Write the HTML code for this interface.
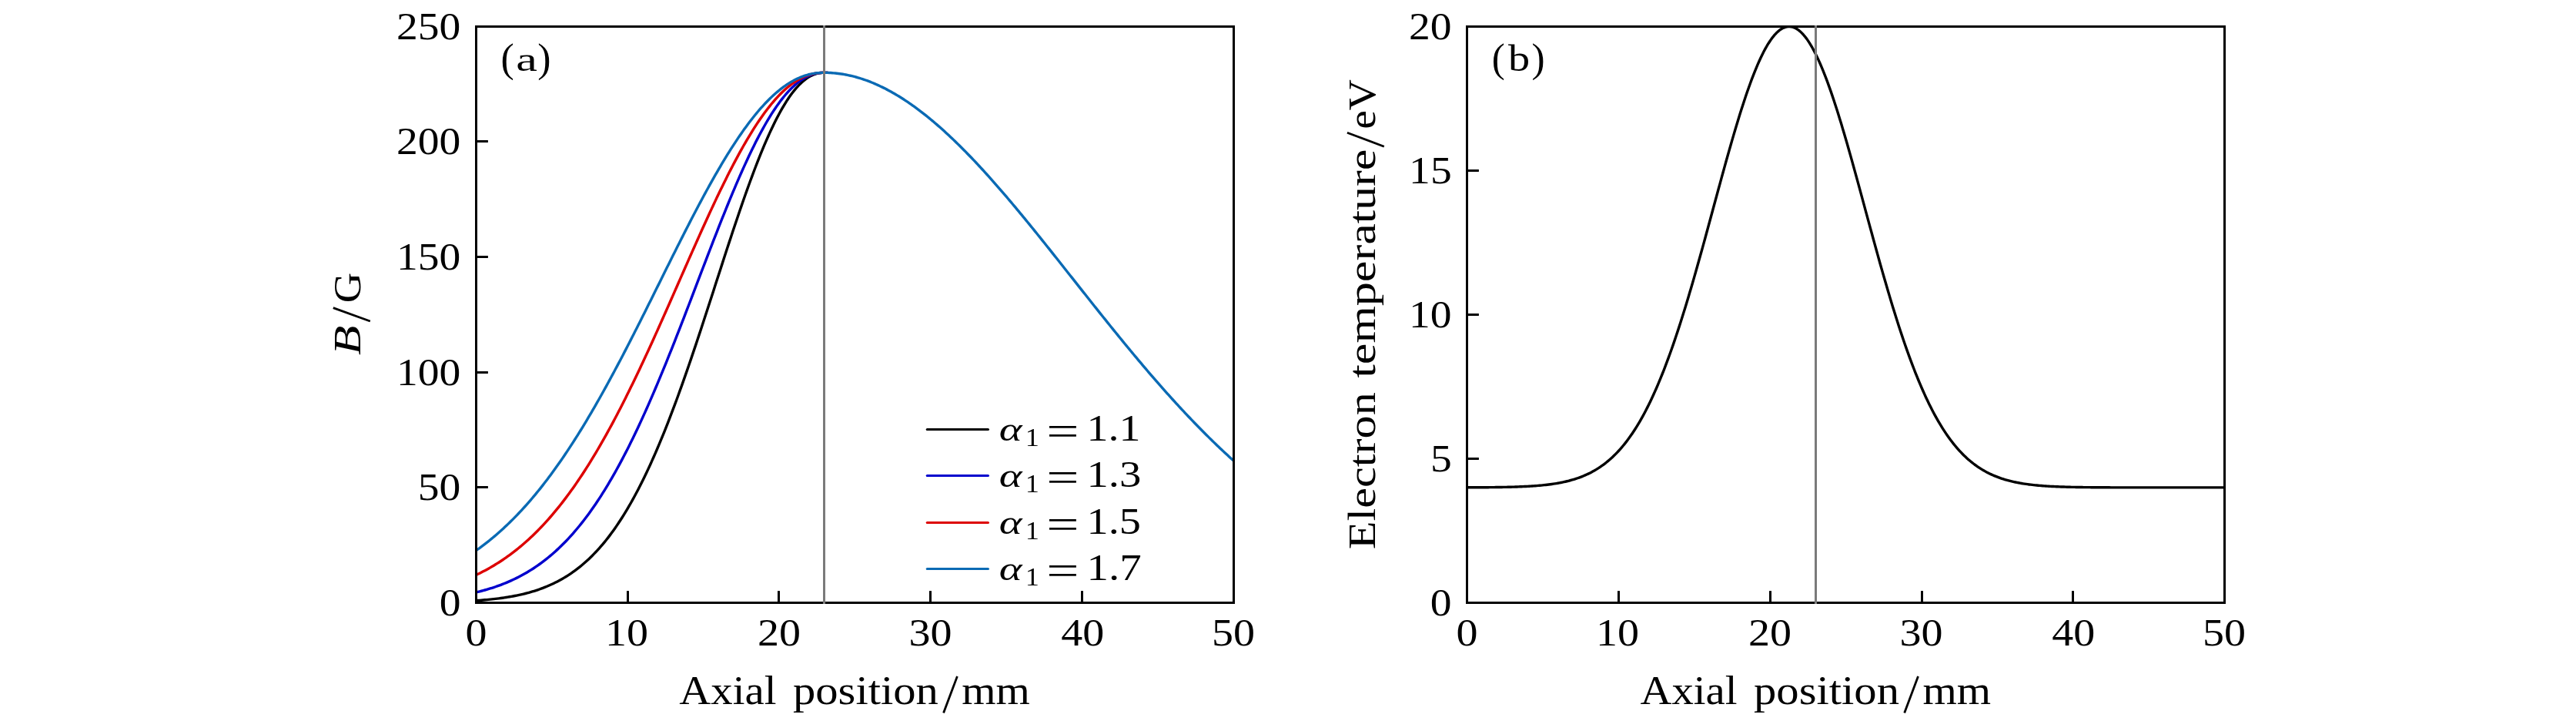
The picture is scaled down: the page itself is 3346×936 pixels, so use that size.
<!DOCTYPE html>
<html><head><meta charset="utf-8"><style>html,body{margin:0;padding:0;background:#fff;width:3346px;height:936px;overflow:hidden}</style></head>
<body>
<svg width="3346" height="936" viewBox="0 0 3346 936" style="position:absolute;left:0;top:0;will-change:transform">
<rect width="3346" height="936" fill="#fff"/>
<defs><clipPath id="ca"><rect x="618.5" y="34.5" width="984.0" height="748.0"/></clipPath><clipPath id="cb"><rect x="1905.5" y="34.5" width="984.0" height="748.0"/></clipPath></defs>
<g stroke="#000" stroke-width="3.0"><line x1="815.50" y1="782.5" x2="815.50" y2="767.1"/><line x1="1011.50" y1="782.5" x2="1011.50" y2="767.1"/><line x1="1208.50" y1="782.5" x2="1208.50" y2="767.1"/><line x1="1405.50" y1="782.5" x2="1405.50" y2="767.1"/><line x1="618.5" y1="632.50" x2="633.9" y2="632.50"/><line x1="618.5" y1="483.50" x2="633.9" y2="483.50"/><line x1="618.5" y1="333.50" x2="633.9" y2="333.50"/><line x1="618.5" y1="183.50" x2="633.9" y2="183.50"/></g>
<g clip-path="url(#ca)" fill="none" stroke-width="3.4" stroke-linejoin="round" stroke-linecap="round">
<path d="M618.50,779.70 L620.78,779.54 L623.07,779.37 L625.35,779.19 L627.63,779.01 L629.91,778.81 L632.20,778.60 L634.48,778.39 L636.76,778.16 L639.05,777.92 L641.33,777.67 L643.61,777.41 L645.89,777.13 L648.18,776.84 L650.46,776.54 L652.74,776.22 L655.03,775.89 L657.31,775.54 L659.59,775.17 L661.87,774.79 L664.16,774.39 L666.44,773.97 L668.72,773.54 L671.01,773.08 L673.29,772.60 L675.57,772.11 L677.85,771.59 L680.14,771.04 L682.42,770.48 L684.70,769.89 L686.99,769.27 L689.27,768.63 L691.55,767.96 L693.84,767.26 L696.12,766.53 L698.40,765.78 L700.68,764.99 L702.97,764.17 L705.25,763.32 L707.53,762.43 L709.82,761.51 L712.10,760.55 L714.38,759.56 L716.66,758.52 L718.95,757.45 L721.23,756.34 L723.51,755.19 L725.80,753.99 L728.08,752.75 L730.36,751.46 L732.64,750.13 L734.93,748.75 L737.21,747.32 L739.49,745.84 L741.78,744.31 L744.06,742.72 L746.34,741.09 L748.62,739.39 L750.91,737.65 L753.19,735.84 L755.47,733.97 L757.76,732.05 L760.04,730.06 L762.32,728.01 L764.60,725.90 L766.89,723.72 L769.17,721.47 L771.45,719.16 L773.74,716.78 L776.02,714.33 L778.30,711.80 L780.58,709.21 L782.87,706.54 L785.15,703.79 L787.43,700.97 L789.72,698.08 L792.00,695.10 L794.28,692.05 L796.56,688.91 L798.85,685.70 L801.13,682.40 L803.41,679.03 L805.70,675.56 L807.98,672.02 L810.26,668.39 L812.54,664.67 L814.83,660.87 L817.11,656.98 L819.39,653.00 L821.68,648.94 L823.96,644.79 L826.24,640.55 L828.52,636.22 L830.81,631.81 L833.09,627.30 L835.37,622.71 L837.66,618.03 L839.94,613.25 L842.22,608.40 L844.51,603.45 L846.79,598.42 L849.07,593.29 L851.35,588.09 L853.64,582.79 L855.92,577.42 L858.20,571.96 L860.49,566.41 L862.77,560.78 L865.05,555.08 L867.33,549.29 L869.62,543.43 L871.90,537.48 L874.18,531.47 L876.47,525.38 L878.75,519.22 L881.03,512.99 L883.31,506.69 L885.60,500.33 L887.88,493.90 L890.16,487.41 L892.45,480.87 L894.73,474.26 L897.01,467.61 L899.29,460.90 L901.58,454.15 L903.86,447.35 L906.14,440.52 L908.43,433.64 L910.71,426.73 L912.99,419.78 L915.27,412.81 L917.56,405.81 L919.84,398.80 L922.12,391.76 L924.41,384.71 L926.69,377.66 L928.97,370.59 L931.25,363.53 L933.54,356.46 L935.82,349.41 L938.10,342.36 L940.39,335.33 L942.67,328.32 L944.95,321.34 L947.23,314.38 L949.52,307.46 L951.80,300.57 L954.08,293.72 L956.37,286.93 L958.65,280.18 L960.93,273.49 L963.21,266.85 L965.50,260.29 L967.78,253.79 L970.06,247.37 L972.35,241.02 L974.63,234.76 L976.91,228.59 L979.20,222.51 L981.48,216.52 L983.76,210.64 L986.04,204.86 L988.33,199.19 L990.61,193.64 L992.89,188.20 L995.18,182.88 L997.46,177.70 L999.74,172.64 L1002.02,167.71 L1004.31,162.92 L1006.59,158.28 L1008.87,153.77 L1011.16,149.42 L1013.44,145.21 L1015.72,141.16 L1018.00,137.27 L1020.29,133.54 L1022.57,129.96 L1024.85,126.55 L1027.14,123.31 L1029.42,120.24 L1031.70,117.34 L1033.98,114.60 L1036.27,112.05 L1038.55,109.66 L1040.83,107.45 L1043.12,105.42 L1045.40,103.56 L1047.68,101.88 L1049.96,100.38 L1052.25,99.05 L1054.53,97.89 L1056.81,96.90 L1059.10,96.09 L1061.38,95.43 L1063.66,94.94 L1065.94,94.61 L1068.23,94.41 L1070.51,94.34 L1072.79,94.35 L1075.08,94.40" stroke="#000000"/>
<path d="M618.50,768.95 L620.78,768.40 L623.07,767.83 L625.35,767.25 L627.63,766.64 L629.91,766.01 L632.20,765.35 L634.48,764.68 L636.76,763.98 L639.05,763.26 L641.33,762.52 L643.61,761.75 L645.89,760.96 L648.18,760.14 L650.46,759.29 L652.74,758.41 L655.03,757.51 L657.31,756.58 L659.59,755.62 L661.87,754.63 L664.16,753.61 L666.44,752.56 L668.72,751.47 L671.01,750.36 L673.29,749.20 L675.57,748.02 L677.85,746.80 L680.14,745.54 L682.42,744.25 L684.70,742.92 L686.99,741.55 L689.27,740.14 L691.55,738.70 L693.84,737.21 L696.12,735.68 L698.40,734.11 L700.68,732.50 L702.97,730.85 L705.25,729.15 L707.53,727.40 L709.82,725.61 L712.10,723.77 L714.38,721.89 L716.66,719.96 L718.95,717.98 L721.23,715.95 L723.51,713.87 L725.80,711.74 L728.08,709.56 L730.36,707.32 L732.64,705.04 L734.93,702.70 L737.21,700.30 L739.49,697.85 L741.78,695.35 L744.06,692.79 L746.34,690.17 L748.62,687.50 L750.91,684.77 L753.19,681.98 L755.47,679.13 L757.76,676.22 L760.04,673.25 L762.32,670.23 L764.60,667.14 L766.89,663.99 L769.17,660.78 L771.45,657.51 L773.74,654.17 L776.02,650.78 L778.30,647.32 L780.58,643.80 L782.87,640.21 L785.15,636.56 L787.43,632.85 L789.72,629.08 L792.00,625.24 L794.28,621.34 L796.56,617.38 L798.85,613.36 L801.13,609.27 L803.41,605.12 L805.70,600.90 L807.98,596.63 L810.26,592.29 L812.54,587.89 L814.83,583.43 L817.11,578.91 L819.39,574.33 L821.68,569.68 L823.96,564.98 L826.24,560.23 L828.52,555.41 L830.81,550.54 L833.09,545.61 L835.37,540.62 L837.66,535.58 L839.94,530.49 L842.22,525.35 L844.51,520.15 L846.79,514.91 L849.07,509.61 L851.35,504.27 L853.64,498.88 L855.92,493.45 L858.20,487.97 L860.49,482.45 L862.77,476.89 L865.05,471.29 L867.33,465.66 L869.62,459.98 L871.90,454.28 L874.18,448.54 L876.47,442.77 L878.75,436.97 L881.03,431.15 L883.31,425.30 L885.60,419.43 L887.88,413.53 L890.16,407.62 L892.45,401.70 L894.73,395.76 L897.01,389.80 L899.29,383.84 L901.58,377.87 L903.86,371.90 L906.14,365.92 L908.43,359.95 L910.71,353.98 L912.99,348.01 L915.27,342.05 L917.56,336.10 L919.84,330.16 L922.12,324.24 L924.41,318.34 L926.69,312.46 L928.97,306.60 L931.25,300.77 L933.54,294.97 L935.82,289.20 L938.10,283.47 L940.39,277.77 L942.67,272.12 L944.95,266.50 L947.23,260.94 L949.52,255.42 L951.80,249.95 L954.08,244.54 L956.37,239.19 L958.65,233.89 L960.93,228.66 L963.21,223.49 L965.50,218.40 L967.78,213.37 L970.06,208.42 L972.35,203.54 L974.63,198.74 L976.91,194.02 L979.20,189.39 L981.48,184.84 L983.76,180.39 L986.04,176.02 L988.33,171.75 L990.61,167.57 L992.89,163.50 L995.18,159.52 L997.46,155.65 L999.74,151.88 L1002.02,148.22 L1004.31,144.66 L1006.59,141.22 L1008.87,137.89 L1011.16,134.68 L1013.44,131.58 L1015.72,128.60 L1018.00,125.74 L1020.29,123.00 L1022.57,120.38 L1024.85,117.88 L1027.14,115.51 L1029.42,113.26 L1031.70,111.14 L1033.98,109.15 L1036.27,107.28 L1038.55,105.54 L1040.83,103.93 L1043.12,102.45 L1045.40,101.09 L1047.68,99.87 L1049.96,98.77 L1052.25,97.80 L1054.53,96.95 L1056.81,96.23 L1059.10,95.63 L1061.38,95.15 L1063.66,94.79 L1065.94,94.54 L1068.23,94.39 L1070.51,94.34 L1072.79,94.35 L1075.08,94.40" stroke="#0000cd"/>
<path d="M618.50,746.37 L620.78,745.28 L623.07,744.16 L625.35,743.02 L627.63,741.85 L629.91,740.65 L632.20,739.42 L634.48,738.16 L636.76,736.87 L639.05,735.56 L641.33,734.21 L643.61,732.82 L645.89,731.41 L648.18,729.96 L650.46,728.48 L652.74,726.97 L655.03,725.42 L657.31,723.84 L659.59,722.22 L661.87,720.57 L664.16,718.88 L666.44,717.16 L668.72,715.40 L671.01,713.60 L673.29,711.76 L675.57,709.89 L677.85,707.97 L680.14,706.02 L682.42,704.03 L684.70,702.00 L686.99,699.92 L689.27,697.81 L691.55,695.65 L693.84,693.46 L696.12,691.22 L698.40,688.94 L700.68,686.61 L702.97,684.24 L705.25,681.83 L707.53,679.38 L709.82,676.88 L712.10,674.33 L714.38,671.75 L716.66,669.11 L718.95,666.43 L721.23,663.71 L723.51,660.94 L725.80,658.12 L728.08,655.26 L730.36,652.35 L732.64,649.39 L734.93,646.39 L737.21,643.34 L739.49,640.24 L741.78,637.09 L744.06,633.90 L746.34,630.66 L748.62,627.38 L750.91,624.04 L753.19,620.66 L755.47,617.23 L757.76,613.76 L760.04,610.23 L762.32,606.66 L764.60,603.04 L766.89,599.38 L769.17,595.67 L771.45,591.91 L773.74,588.10 L776.02,584.25 L778.30,580.36 L780.58,576.41 L782.87,572.43 L785.15,568.39 L787.43,564.32 L789.72,560.20 L792.00,556.03 L794.28,551.83 L796.56,547.58 L798.85,543.29 L801.13,538.95 L803.41,534.58 L805.70,530.16 L807.98,525.71 L810.26,521.22 L812.54,516.68 L814.83,512.11 L817.11,507.51 L819.39,502.87 L821.68,498.19 L823.96,493.48 L826.24,488.74 L828.52,483.96 L830.81,479.15 L833.09,474.31 L835.37,469.45 L837.66,464.55 L839.94,459.63 L842.22,454.68 L844.51,449.70 L846.79,444.71 L849.07,439.69 L851.35,434.64 L853.64,429.58 L855.92,424.50 L858.20,419.40 L860.49,414.29 L862.77,409.16 L865.05,404.02 L867.33,398.87 L869.62,393.70 L871.90,388.53 L874.18,383.35 L876.47,378.17 L878.75,372.98 L881.03,367.78 L883.31,362.59 L885.60,357.40 L887.88,352.21 L890.16,347.02 L892.45,341.84 L894.73,336.66 L897.01,331.50 L899.29,326.35 L901.58,321.21 L903.86,316.08 L906.14,310.97 L908.43,305.88 L910.71,300.80 L912.99,295.75 L915.27,290.72 L917.56,285.72 L919.84,280.75 L922.12,275.80 L924.41,270.88 L926.69,266.00 L928.97,261.15 L931.25,256.34 L933.54,251.57 L935.82,246.83 L938.10,242.14 L940.39,237.49 L942.67,232.89 L944.95,228.33 L947.23,223.83 L949.52,219.38 L951.80,214.97 L954.08,210.63 L956.37,206.34 L958.65,202.11 L960.93,197.94 L963.21,193.83 L965.50,189.78 L967.78,185.80 L970.06,181.89 L972.35,178.04 L974.63,174.27 L976.91,170.57 L979.20,166.94 L981.48,163.39 L983.76,159.91 L986.04,156.51 L988.33,153.19 L990.61,149.95 L992.89,146.79 L995.18,143.72 L997.46,140.73 L999.74,137.83 L1002.02,135.01 L1004.31,132.29 L1006.59,129.65 L1008.87,127.10 L1011.16,124.65 L1013.44,122.28 L1015.72,120.01 L1018.00,117.84 L1020.29,115.76 L1022.57,113.77 L1024.85,111.89 L1027.14,110.10 L1029.42,108.40 L1031.70,106.80 L1033.98,105.31 L1036.27,103.91 L1038.55,102.60 L1040.83,101.40 L1043.12,100.29 L1045.40,99.29 L1047.68,98.38 L1049.96,97.56 L1052.25,96.85 L1054.53,96.22 L1056.81,95.70 L1059.10,95.26 L1061.38,94.91 L1063.66,94.65 L1065.94,94.48 L1068.23,94.38 L1070.51,94.34 L1072.79,94.35 L1075.08,94.40" stroke="#dd0000"/>
<path d="M618.50,714.61 L620.47,713.22 L622.44,711.80 L624.40,710.36 L626.37,708.90 L628.34,707.42 L630.31,705.91 L632.28,704.38 L634.24,702.83 L636.21,701.25 L638.18,699.65 L640.15,698.02 L642.12,696.37 L644.08,694.69 L646.05,692.99 L648.02,691.27 L649.99,689.52 L651.96,687.75 L653.92,685.95 L655.89,684.12 L657.86,682.27 L659.83,680.39 L661.80,678.49 L663.76,676.56 L665.73,674.61 L667.70,672.63 L669.67,670.62 L671.64,668.58 L673.60,666.52 L675.57,664.44 L677.54,662.32 L679.51,660.18 L681.48,658.01 L683.44,655.82 L685.41,653.59 L687.38,651.34 L689.35,649.06 L691.32,646.76 L693.28,644.43 L695.25,642.07 L697.22,639.68 L699.19,637.26 L701.16,634.82 L703.12,632.35 L705.09,629.85 L707.06,627.32 L709.03,624.77 L711.00,622.19 L712.96,619.58 L714.93,616.94 L716.90,614.27 L718.87,611.58 L720.84,608.86 L722.80,606.11 L724.77,603.34 L726.74,600.53 L728.71,597.70 L730.68,594.84 L732.64,591.96 L734.61,589.05 L736.58,586.11 L738.55,583.14 L740.52,580.15 L742.48,577.13 L744.45,574.09 L746.42,571.02 L748.39,567.92 L750.36,564.80 L752.32,561.65 L754.29,558.48 L756.26,555.28 L758.23,552.05 L760.20,548.80 L762.16,545.53 L764.13,542.23 L766.10,538.91 L768.07,535.56 L770.04,532.19 L772.00,528.80 L773.97,525.39 L775.94,521.95 L777.91,518.49 L779.88,515.01 L781.84,511.50 L783.81,507.98 L785.78,504.43 L787.75,500.87 L789.72,497.28 L791.68,493.68 L793.65,490.05 L795.62,486.41 L797.59,482.75 L799.56,479.07 L801.52,475.37 L803.49,471.66 L805.46,467.93 L807.43,464.18 L809.40,460.42 L811.36,456.64 L813.33,452.85 L815.30,449.04 L817.27,445.22 L819.24,441.39 L821.20,437.54 L823.17,433.69 L825.14,429.82 L827.11,425.94 L829.08,422.05 L831.04,418.15 L833.01,414.25 L834.98,410.33 L836.95,406.41 L838.92,402.48 L840.88,398.54 L842.85,394.60 L844.82,390.65 L846.79,386.70 L848.76,382.75 L850.72,378.79 L852.69,374.83 L854.66,370.87 L856.63,366.90 L858.60,362.94 L860.56,358.98 L862.53,355.02 L864.50,351.06 L866.47,347.10 L868.44,343.15 L870.40,339.20 L872.37,335.26 L874.34,331.32 L876.31,327.39 L878.28,323.47 L880.24,319.56 L882.21,315.65 L884.18,311.75 L886.15,307.87 L888.12,303.99 L890.08,300.13 L892.05,296.28 L894.02,292.45 L895.99,288.63 L897.96,284.82 L899.92,281.03 L901.89,277.26 L903.86,273.51 L905.83,269.77 L907.80,266.05 L909.76,262.36 L911.73,258.68 L913.70,255.03 L915.67,251.40 L917.64,247.79 L919.60,244.21 L921.57,240.65 L923.54,237.12 L925.51,233.62 L927.48,230.14 L929.44,226.70 L931.41,223.28 L933.38,219.89 L935.35,216.53 L937.32,213.20 L939.28,209.91 L941.25,206.65 L943.22,203.42 L945.19,200.23 L947.16,197.07 L949.12,193.95 L951.09,190.87 L953.06,187.82 L955.03,184.81 L957.00,181.84 L958.96,178.92 L960.93,176.03 L962.90,173.18 L964.87,170.38 L966.84,167.61 L968.80,164.90 L970.77,162.22 L972.74,159.59 L974.71,157.01 L976.68,154.47 L978.64,151.97 L980.61,149.53 L982.58,147.13 L984.55,144.78 L986.52,142.48 L988.48,140.23 L990.45,138.02 L992.42,135.87 L994.39,133.77 L996.36,131.72 L998.32,129.73 L1000.29,127.78 L1002.26,125.89 L1004.23,124.05 L1006.20,122.26 L1008.16,120.53 L1010.13,118.85 L1012.10,117.23 L1014.07,115.66 L1016.04,114.15 L1018.00,112.69 L1019.97,111.29 L1021.94,109.94 L1023.91,108.65 L1025.88,107.42 L1027.84,106.24 L1029.81,105.12 L1031.78,104.05 L1033.75,103.04 L1035.72,102.09 L1037.68,101.20 L1039.65,100.36 L1041.62,99.58 L1043.59,98.86 L1045.56,98.19 L1047.52,97.57 L1049.49,97.02 L1051.46,96.52 L1053.43,96.07 L1055.40,95.68 L1057.36,95.34 L1059.33,95.05 L1061.30,94.81 L1063.27,94.63 L1065.24,94.49 L1067.20,94.40 L1069.17,94.35 L1071.14,94.34 L1073.11,94.35 L1075.08,94.40 L1077.04,94.47 L1079.01,94.57 L1080.98,94.69 L1082.95,94.84 L1084.92,95.02 L1086.88,95.22 L1088.85,95.46 L1090.82,95.71 L1092.79,96.00 L1094.76,96.30 L1096.72,96.64 L1098.69,97.00 L1100.66,97.39 L1102.63,97.80 L1104.60,98.24 L1106.56,98.70 L1108.53,99.19 L1110.50,99.70 L1112.47,100.24 L1114.44,100.80 L1116.40,101.39 L1118.37,102.00 L1120.34,102.64 L1122.31,103.30 L1124.28,103.99 L1126.24,104.70 L1128.21,105.44 L1130.18,106.20 L1132.15,106.98 L1134.12,107.79 L1136.08,108.62 L1138.05,109.47 L1140.02,110.35 L1141.99,111.26 L1143.96,112.18 L1145.92,113.13 L1147.89,114.10 L1149.86,115.10 L1151.83,116.12 L1153.80,117.16 L1155.76,118.22 L1157.73,119.31 L1159.70,120.42 L1161.67,121.55 L1163.64,122.70 L1165.60,123.87 L1167.57,125.07 L1169.54,126.29 L1171.51,127.53 L1173.48,128.79 L1175.44,130.07 L1177.41,131.38 L1179.38,132.70 L1181.35,134.05 L1183.32,135.41 L1185.28,136.80 L1187.25,138.21 L1189.22,139.63 L1191.19,141.08 L1193.16,142.55 L1195.12,144.03 L1197.09,145.54 L1199.06,147.07 L1201.03,148.61 L1203.00,150.17 L1204.96,151.76 L1206.93,153.36 L1208.90,154.98 L1210.87,156.62 L1212.84,158.27 L1214.80,159.95 L1216.77,161.64 L1218.74,163.35 L1220.71,165.08 L1222.68,166.82 L1224.64,168.58 L1226.61,170.36 L1228.58,172.16 L1230.55,173.97 L1232.52,175.80 L1234.48,177.64 L1236.45,179.50 L1238.42,181.38 L1240.39,183.27 L1242.36,185.18 L1244.32,187.10 L1246.29,189.03 L1248.26,190.99 L1250.23,192.95 L1252.20,194.93 L1254.16,196.93 L1256.13,198.94 L1258.10,200.96 L1260.07,203.00 L1262.04,205.05 L1264.00,207.11 L1265.97,209.19 L1267.94,211.28 L1269.91,213.38 L1271.88,215.50 L1273.84,217.62 L1275.81,219.76 L1277.78,221.91 L1279.75,224.08 L1281.72,226.25 L1283.68,228.43 L1285.65,230.63 L1287.62,232.84 L1289.59,235.05 L1291.56,237.28 L1293.52,239.52 L1295.49,241.77 L1297.46,244.03 L1299.43,246.29 L1301.40,248.57 L1303.36,250.86 L1305.33,253.15 L1307.30,255.45 L1309.27,257.77 L1311.24,260.09 L1313.20,262.41 L1315.17,264.75 L1317.14,267.10 L1319.11,269.45 L1321.08,271.81 L1323.04,274.17 L1325.01,276.55 L1326.98,278.93 L1328.95,281.31 L1330.92,283.70 L1332.88,286.10 L1334.85,288.51 L1336.82,290.92 L1338.79,293.33 L1340.76,295.76 L1342.72,298.18 L1344.69,300.61 L1346.66,303.05 L1348.63,305.49 L1350.60,307.93 L1352.56,310.38 L1354.53,312.83 L1356.50,315.29 L1358.47,317.75 L1360.44,320.21 L1362.40,322.68 L1364.37,325.15 L1366.34,327.62 L1368.31,330.10 L1370.28,332.57 L1372.24,335.05 L1374.21,337.53 L1376.18,340.01 L1378.15,342.50 L1380.12,344.98 L1382.08,347.47 L1384.05,349.96 L1386.02,352.45 L1387.99,354.94 L1389.96,357.43 L1391.92,359.92 L1393.89,362.41 L1395.86,364.90 L1397.83,367.39 L1399.80,369.88 L1401.76,372.37 L1403.73,374.86 L1405.70,377.35 L1407.67,379.83 L1409.64,382.32 L1411.60,384.80 L1413.57,387.28 L1415.54,389.76 L1417.51,392.24 L1419.48,394.72 L1421.44,397.19 L1423.41,399.67 L1425.38,402.14 L1427.35,404.60 L1429.32,407.07 L1431.28,409.53 L1433.25,411.99 L1435.22,414.44 L1437.19,416.89 L1439.16,419.34 L1441.12,421.78 L1443.09,424.22 L1445.06,426.66 L1447.03,429.09 L1449.00,431.51 L1450.96,433.94 L1452.93,436.35 L1454.90,438.77 L1456.87,441.18 L1458.84,443.58 L1460.80,445.98 L1462.77,448.37 L1464.74,450.76 L1466.71,453.14 L1468.68,455.51 L1470.64,457.88 L1472.61,460.25 L1474.58,462.60 L1476.55,464.96 L1478.52,467.30 L1480.48,469.64 L1482.45,471.97 L1484.42,474.30 L1486.39,476.62 L1488.36,478.93 L1490.32,481.24 L1492.29,483.53 L1494.26,485.82 L1496.23,488.11 L1498.20,490.38 L1500.16,492.65 L1502.13,494.91 L1504.10,497.17 L1506.07,499.41 L1508.04,501.65 L1510.00,503.88 L1511.97,506.10 L1513.94,508.31 L1515.91,510.52 L1517.88,512.72 L1519.84,514.90 L1521.81,517.08 L1523.78,519.25 L1525.75,521.42 L1527.72,523.57 L1529.68,525.71 L1531.65,527.85 L1533.62,529.98 L1535.59,532.09 L1537.56,534.20 L1539.52,536.30 L1541.49,538.39 L1543.46,540.47 L1545.43,542.54 L1547.40,544.61 L1549.36,546.66 L1551.33,548.70 L1553.30,550.73 L1555.27,552.76 L1557.24,554.77 L1559.20,556.77 L1561.17,558.77 L1563.14,560.75 L1565.11,562.73 L1567.08,564.69 L1569.04,566.64 L1571.01,568.59 L1572.98,570.52 L1574.95,572.44 L1576.92,574.36 L1578.88,576.26 L1580.85,578.15 L1582.82,580.03 L1584.79,581.91 L1586.76,583.77 L1588.72,585.62 L1590.69,587.46 L1592.66,589.29 L1594.63,591.11 L1596.60,592.92 L1598.56,594.71 L1600.53,596.50 L1602.50,598.28" stroke="#0a6ab4"/>
</g>
<rect x="618.5" y="34.5" width="984.0" height="748.0" fill="none" stroke="#000" stroke-width="3.0"/>
<line x1="1070.5" y1="33.0" x2="1070.5" y2="784.0" stroke="#7a7a7a" stroke-width="3.0"/>
<g stroke="#000" stroke-width="3.0"><line x1="2102.50" y1="782.5" x2="2102.50" y2="767.1"/><line x1="2299.50" y1="782.5" x2="2299.50" y2="767.1"/><line x1="2496.50" y1="782.5" x2="2496.50" y2="767.1"/><line x1="2692.50" y1="782.5" x2="2692.50" y2="767.1"/><line x1="1905.5" y1="595.50" x2="1920.9" y2="595.50"/><line x1="1905.5" y1="408.50" x2="1920.9" y2="408.50"/><line x1="1905.5" y1="221.50" x2="1920.9" y2="221.50"/></g>
<g clip-path="url(#cb)" fill="none" stroke-width="3.4" stroke-linejoin="round" stroke-linecap="round">
<path d="M1905.50,632.83 L1907.47,632.82 L1909.44,632.82 L1911.40,632.81 L1913.37,632.80 L1915.34,632.79 L1917.31,632.78 L1919.28,632.77 L1921.24,632.76 L1923.21,632.75 L1925.18,632.74 L1927.15,632.72 L1929.12,632.71 L1931.08,632.69 L1933.05,632.68 L1935.02,632.66 L1936.99,632.64 L1938.96,632.62 L1940.92,632.59 L1942.89,632.57 L1944.86,632.54 L1946.83,632.51 L1948.80,632.48 L1950.76,632.45 L1952.73,632.41 L1954.70,632.38 L1956.67,632.33 L1958.64,632.29 L1960.60,632.24 L1962.57,632.19 L1964.54,632.14 L1966.51,632.08 L1968.48,632.02 L1970.44,631.96 L1972.41,631.89 L1974.38,631.81 L1976.35,631.73 L1978.32,631.64 L1980.28,631.55 L1982.25,631.46 L1984.22,631.35 L1986.19,631.24 L1988.16,631.13 L1990.12,631.00 L1992.09,630.87 L1994.06,630.73 L1996.03,630.58 L1998.00,630.42 L1999.96,630.25 L2001.93,630.07 L2003.90,629.88 L2005.87,629.67 L2007.84,629.46 L2009.80,629.23 L2011.77,628.99 L2013.74,628.74 L2015.71,628.46 L2017.68,628.18 L2019.64,627.88 L2021.61,627.56 L2023.58,627.22 L2025.55,626.86 L2027.52,626.49 L2029.48,626.09 L2031.45,625.67 L2033.42,625.23 L2035.39,624.77 L2037.36,624.28 L2039.32,623.76 L2041.29,623.22 L2043.26,622.65 L2045.23,622.05 L2047.20,621.42 L2049.16,620.76 L2051.13,620.06 L2053.10,619.33 L2055.07,618.57 L2057.04,617.77 L2059.00,616.93 L2060.97,616.05 L2062.94,615.13 L2064.91,614.16 L2066.88,613.15 L2068.84,612.10 L2070.81,611.00 L2072.78,609.84 L2074.75,608.64 L2076.72,607.39 L2078.68,606.08 L2080.65,604.71 L2082.62,603.29 L2084.59,601.81 L2086.56,600.26 L2088.52,598.66 L2090.49,596.99 L2092.46,595.25 L2094.43,593.45 L2096.40,591.57 L2098.36,589.62 L2100.33,587.60 L2102.30,585.51 L2104.27,583.33 L2106.24,581.08 L2108.20,578.75 L2110.17,576.33 L2112.14,573.83 L2114.11,571.25 L2116.08,568.57 L2118.04,565.81 L2120.01,562.96 L2121.98,560.01 L2123.95,556.97 L2125.92,553.84 L2127.88,550.61 L2129.85,547.28 L2131.82,543.86 L2133.79,540.33 L2135.76,536.70 L2137.72,532.97 L2139.69,529.14 L2141.66,525.20 L2143.63,521.16 L2145.60,517.02 L2147.56,512.76 L2149.53,508.40 L2151.50,503.94 L2153.47,499.37 L2155.44,494.69 L2157.40,489.90 L2159.37,485.01 L2161.34,480.01 L2163.31,474.91 L2165.28,469.70 L2167.24,464.38 L2169.21,458.97 L2171.18,453.45 L2173.15,447.83 L2175.12,442.11 L2177.08,436.29 L2179.05,430.37 L2181.02,424.36 L2182.99,418.26 L2184.96,412.07 L2186.92,405.79 L2188.89,399.43 L2190.86,392.98 L2192.83,386.45 L2194.80,379.85 L2196.76,373.17 L2198.73,366.43 L2200.70,359.62 L2202.67,352.74 L2204.64,345.81 L2206.60,338.83 L2208.57,331.79 L2210.54,324.71 L2212.51,317.59 L2214.48,310.44 L2216.44,303.25 L2218.41,296.04 L2220.38,288.81 L2222.35,281.56 L2224.32,274.31 L2226.28,267.05 L2228.25,259.79 L2230.22,252.54 L2232.19,245.31 L2234.16,238.10 L2236.12,230.91 L2238.09,223.76 L2240.06,216.64 L2242.03,209.57 L2244.00,202.55 L2245.96,195.60 L2247.93,188.70 L2249.90,181.88 L2251.87,175.14 L2253.84,168.48 L2255.80,161.91 L2257.77,155.45 L2259.74,149.08 L2261.71,142.83 L2263.68,136.70 L2265.64,130.69 L2267.61,124.81 L2269.58,119.06 L2271.55,113.46 L2273.52,108.01 L2275.48,102.71 L2277.45,97.58 L2279.42,92.61 L2281.39,87.81 L2283.36,83.19 L2285.32,78.75 L2287.29,74.50 L2289.26,70.45 L2291.23,66.59 L2293.20,62.93 L2295.16,59.47 L2297.13,56.23 L2299.10,53.20 L2301.07,50.39 L2303.04,47.80 L2305.00,45.43 L2306.97,43.29 L2308.94,41.37 L2310.91,39.69 L2312.88,38.24 L2314.84,37.03 L2316.81,36.05 L2318.78,35.31 L2320.75,34.81 L2322.72,34.54 L2324.68,34.52 L2326.65,34.73 L2328.62,35.19 L2330.59,35.88 L2332.56,36.81 L2334.52,37.98 L2336.49,39.38 L2338.46,41.02 L2340.43,42.89 L2342.40,44.98 L2344.36,47.31 L2346.33,49.85 L2348.30,52.62 L2350.27,55.61 L2352.24,58.81 L2354.20,62.22 L2356.17,65.84 L2358.14,69.66 L2360.11,73.68 L2362.08,77.89 L2364.04,82.29 L2366.01,86.87 L2367.98,91.64 L2369.95,96.57 L2371.92,101.67 L2373.88,106.94 L2375.85,112.36 L2377.82,117.93 L2379.79,123.65 L2381.76,129.50 L2383.72,135.48 L2385.69,141.59 L2387.66,147.82 L2389.63,154.16 L2391.60,160.61 L2393.56,167.16 L2395.53,173.80 L2397.50,180.53 L2399.47,187.33 L2401.44,194.21 L2403.40,201.16 L2405.37,208.16 L2407.34,215.22 L2409.31,222.33 L2411.28,229.48 L2413.24,236.66 L2415.21,243.87 L2417.18,251.10 L2419.15,258.34 L2421.12,265.60 L2423.08,272.86 L2425.05,280.11 L2427.02,287.36 L2428.99,294.60 L2430.96,301.81 L2432.92,309.00 L2434.89,316.16 L2436.86,323.29 L2438.83,330.38 L2440.80,337.42 L2442.76,344.42 L2444.73,351.36 L2446.70,358.25 L2448.67,365.07 L2450.64,371.83 L2452.60,378.52 L2454.57,385.14 L2456.54,391.68 L2458.51,398.14 L2460.48,404.53 L2462.44,410.82 L2464.41,417.03 L2466.38,423.15 L2468.35,429.18 L2470.32,435.11 L2472.28,440.95 L2474.25,446.69 L2476.22,452.33 L2478.19,457.87 L2480.16,463.31 L2482.12,468.64 L2484.09,473.87 L2486.06,479.00 L2488.03,484.02 L2490.00,488.93 L2491.96,493.74 L2493.93,498.44 L2495.90,503.03 L2497.87,507.52 L2499.84,511.90 L2501.80,516.17 L2503.77,520.34 L2505.74,524.40 L2507.71,528.36 L2509.68,532.22 L2511.64,535.97 L2513.61,539.61 L2515.58,543.16 L2517.55,546.61 L2519.52,549.95 L2521.48,553.20 L2523.45,556.36 L2525.42,559.41 L2527.39,562.38 L2529.36,565.25 L2531.32,568.03 L2533.29,570.72 L2535.26,573.32 L2537.23,575.84 L2539.20,578.27 L2541.16,580.62 L2543.13,582.89 L2545.10,585.08 L2547.07,587.19 L2549.04,589.22 L2551.00,591.19 L2552.97,593.08 L2554.94,594.90 L2556.91,596.65 L2558.88,598.33 L2560.84,599.95 L2562.81,601.50 L2564.78,603.00 L2566.75,604.43 L2568.72,605.81 L2570.68,607.13 L2572.65,608.40 L2574.62,609.61 L2576.59,610.77 L2578.56,611.88 L2580.52,612.95 L2582.49,613.96 L2584.46,614.94 L2586.43,615.87 L2588.40,616.76 L2590.36,617.60 L2592.33,618.41 L2594.30,619.18 L2596.27,619.92 L2598.24,620.62 L2600.20,621.29 L2602.17,621.93 L2604.14,622.53 L2606.11,623.11 L2608.08,623.66 L2610.04,624.18 L2612.01,624.67 L2613.98,625.14 L2615.95,625.59 L2617.92,626.01 L2619.88,626.41 L2621.85,626.79 L2623.82,627.15 L2625.79,627.49 L2627.76,627.81 L2629.72,628.12 L2631.69,628.41 L2633.66,628.68 L2635.63,628.94 L2637.60,629.18 L2639.56,629.41 L2641.53,629.63 L2643.50,629.84 L2645.47,630.03 L2647.44,630.21 L2649.40,630.38 L2651.37,630.55 L2653.34,630.70 L2655.31,630.84 L2657.28,630.97 L2659.24,631.10 L2661.21,631.22 L2663.18,631.33 L2665.15,631.44 L2667.12,631.53 L2669.08,631.63 L2671.05,631.71 L2673.02,631.79 L2674.99,631.87 L2676.96,631.94 L2678.92,632.01 L2680.89,632.07 L2682.86,632.13 L2684.83,632.18 L2686.80,632.23 L2688.76,632.28 L2690.73,632.33 L2692.70,632.37 L2694.67,632.41 L2696.64,632.44 L2698.60,632.48 L2700.57,632.51 L2702.54,632.54 L2704.51,632.56 L2706.48,632.59 L2708.44,632.61 L2710.41,632.63 L2712.38,632.65 L2714.35,632.67 L2716.32,632.69 L2718.28,632.71 L2720.25,632.72 L2722.22,632.73 L2724.19,632.75 L2726.16,632.76 L2728.12,632.77 L2730.09,632.78 L2732.06,632.79 L2734.03,632.80 L2736.00,632.81 L2737.96,632.81 L2739.93,632.82 L2741.90,632.83 L2743.87,632.83 L2745.84,632.84 L2747.80,632.84 L2749.77,632.85 L2751.74,632.85 L2753.71,632.86 L2755.68,632.86 L2757.64,632.86 L2759.61,632.87 L2761.58,632.87 L2763.55,632.87 L2765.52,632.87 L2767.48,632.88 L2769.45,632.88 L2771.42,632.88 L2773.39,632.88 L2775.36,632.88 L2777.32,632.89 L2779.29,632.89 L2781.26,632.89 L2783.23,632.89 L2785.20,632.89 L2787.16,632.89 L2789.13,632.89 L2791.10,632.89 L2793.07,632.89 L2795.04,632.89 L2797.00,632.89 L2798.97,632.89 L2800.94,632.90 L2802.91,632.90 L2804.88,632.90 L2806.84,632.90 L2808.81,632.90 L2810.78,632.90 L2812.75,632.90 L2814.72,632.90 L2816.68,632.90 L2818.65,632.90 L2820.62,632.90 L2822.59,632.90 L2824.56,632.90 L2826.52,632.90 L2828.49,632.90 L2830.46,632.90 L2832.43,632.90 L2834.40,632.90 L2836.36,632.90 L2838.33,632.90 L2840.30,632.90 L2842.27,632.90 L2844.24,632.90 L2846.20,632.90 L2848.17,632.90 L2850.14,632.90 L2852.11,632.90 L2854.08,632.90 L2856.04,632.90 L2858.01,632.90 L2859.98,632.90 L2861.95,632.90 L2863.92,632.90 L2865.88,632.90 L2867.85,632.90 L2869.82,632.90 L2871.79,632.90 L2873.76,632.90 L2875.72,632.90 L2877.69,632.90 L2879.66,632.90 L2881.63,632.90 L2883.60,632.90 L2885.56,632.90 L2887.53,632.90 L2889.50,632.90" stroke="#000"/>
</g>
<rect x="1905.5" y="34.5" width="984.0" height="748.0" fill="none" stroke="#000" stroke-width="3.0"/>
<line x1="2358.5" y1="33.0" x2="2358.5" y2="784.0" stroke="#7a7a7a" stroke-width="3.0"/>
<line x1="1204.3" y1="557.50" x2="1283.4" y2="557.50" stroke="#000000" stroke-width="3.2" stroke-linecap="round"/>
<line x1="1204.3" y1="617.50" x2="1283.4" y2="617.50" stroke="#0000cd" stroke-width="3.2" stroke-linecap="round"/>
<line x1="1204.3" y1="678.50" x2="1283.4" y2="678.50" stroke="#dd0000" stroke-width="3.2" stroke-linecap="round"/>
<line x1="1204.3" y1="738.50" x2="1283.4" y2="738.50" stroke="#0a6ab4" stroke-width="3.2" stroke-linecap="round"/>
<g style="font-family:'Liberation Serif', serif;font-kerning:none" fill="#000" stroke="#000" stroke-width="0.0">
<text transform="translate(570.64,798.77) scale(1.1190,1.0000)" font-size="49.64" style="" fill="#000">0</text>
<text transform="translate(542.86,649.17) scale(1.1190,1.0000)" font-size="49.64" style="" fill="#000">50</text>
<text transform="translate(515.09,499.57) scale(1.1190,1.0000)" font-size="49.64" style="" fill="#000">100</text>
<text transform="translate(515.09,349.97) scale(1.1190,1.0000)" font-size="49.64" style="" fill="#000">150</text>
<text transform="translate(515.09,200.37) scale(1.1190,1.0000)" font-size="49.64" style="" fill="#000">200</text>
<text transform="translate(515.09,50.77) scale(1.1190,1.0000)" font-size="49.64" style="" fill="#000">250</text>
<text transform="translate(1857.84,798.77) scale(1.1190,1.0000)" font-size="49.64" style="" fill="#000">0</text>
<text transform="translate(1857.89,611.77) scale(1.1190,1.0000)" font-size="49.64" style="" fill="#000">5</text>
<text transform="translate(1830.06,424.77) scale(1.1190,1.0000)" font-size="49.64" style="" fill="#000">10</text>
<text transform="translate(1830.12,237.77) scale(1.1190,1.0000)" font-size="49.64" style="" fill="#000">15</text>
<text transform="translate(1830.06,50.77) scale(1.1190,1.0000)" font-size="49.64" style="" fill="#000">20</text>
<text transform="translate(604.49,837.62) scale(1.1290,1.0000)" font-size="49.64" style="" fill="#000">0</text>
<text transform="translate(785.88,837.62) scale(1.1290,1.0000)" font-size="49.64" style="" fill="#000">10</text>
<text transform="translate(983.91,837.62) scale(1.1290,1.0000)" font-size="49.64" style="" fill="#000">20</text>
<text transform="translate(1180.60,837.62) scale(1.1290,1.0000)" font-size="49.64" style="" fill="#000">30</text>
<text transform="translate(1378.20,837.62) scale(1.1290,1.0000)" font-size="49.64" style="" fill="#000">40</text>
<text transform="translate(1573.91,837.62) scale(1.1290,1.0000)" font-size="49.64" style="" fill="#000">50</text>
<text transform="translate(1891.49,837.62) scale(1.1290,1.0000)" font-size="49.64" style="" fill="#000">0</text>
<text transform="translate(2072.88,837.62) scale(1.1290,1.0000)" font-size="49.64" style="" fill="#000">10</text>
<text transform="translate(2270.91,837.62) scale(1.1290,1.0000)" font-size="49.64" style="" fill="#000">20</text>
<text transform="translate(2467.60,837.62) scale(1.1290,1.0000)" font-size="49.64" style="" fill="#000">30</text>
<text transform="translate(2665.20,837.62) scale(1.1290,1.0000)" font-size="49.64" style="" fill="#000">40</text>
<text transform="translate(2860.91,837.62) scale(1.1290,1.0000)" font-size="49.64" style="" fill="#000">50</text>
<text transform="translate(882.35,913.80) scale(1.0766,1.0000)" font-size="52.71" style="" fill="#000">Axial</text>
<text transform="translate(1029.96,913.80) scale(1.1121,1.0000)" font-size="52.71" style="" fill="#000">position</text>
<line x1="1225.59" y1="925.50" x2="1243.41" y2="877.90" stroke="#000" stroke-width="2.8"/>
<text transform="translate(1249.30,913.80) scale(1.0802,1.0000)" font-size="52.71" style="" fill="#000">mm</text>
<text transform="translate(2130.45,913.80) scale(1.0766,1.0000)" font-size="52.71" style="" fill="#000">Axial</text>
<text transform="translate(2278.06,913.80) scale(1.1121,1.0000)" font-size="52.71" style="" fill="#000">position</text>
<line x1="2473.69" y1="925.50" x2="2491.51" y2="877.90" stroke="#000" stroke-width="2.8"/>
<text transform="translate(2497.40,913.80) scale(1.0802,1.0000)" font-size="52.71" style="" fill="#000">mm</text>
<text transform="translate(650.62,92.61) scale(0.9762,1.0000)" font-size="53.05" style="" fill="#000">(</text>
<text transform="translate(670.21,91.56) scale(1.3810,1.0000)" font-size="45.09" style="" fill="#000">a</text>
<text transform="translate(698.23,92.61) scale(0.9762,1.0000)" font-size="53.05" style="" fill="#000">)</text>
<text transform="translate(1937.76,92.61) scale(0.9615,1.0000)" font-size="53.05" style="" fill="#000">(</text>
<text transform="translate(1959.10,91.93) scale(1.1614,1.0000)" font-size="48.46" style="" fill="#000">b</text>
<text transform="translate(1989.44,92.61) scale(0.9688,1.0000)" font-size="53.05" style="" fill="#000">)</text>
<text transform="rotate(-90) translate(-460.88,468.30) scale(1.2614,1.0000)" font-size="49.79" style="font-style:italic;" fill="#000">B</text>
<line x1="432.8" y1="399.6" x2="480.8" y2="417.0" stroke="#000" stroke-width="2.8"/>
<text transform="rotate(-90) translate(-393.14,468.30) scale(1.0971,1.0000)" font-size="49.79" style="" fill="#000">G</text>
<text transform="rotate(-90) translate(-713.34,1786.00) scale(1.1959,1.0000)" font-size="50.40" style="" fill="#000">Electron</text>
<text transform="rotate(-90) translate(-490.41,1786.00) scale(1.2332,1.0000)" font-size="50.40" style="" fill="#000">temperature</text>
<line x1="1749.9" y1="172.3" x2="1797.8" y2="190.2" stroke="#000" stroke-width="2.8"/>
<text transform="rotate(-90) translate(-167.87,1786.00) scale(1.1044,1.0000)" font-size="50.40" style="" fill="#000">eV</text>
<text transform="translate(1297.81,572.04) scale(1.2572,1.0000)" font-size="45.23" style="font-style:italic;" fill="#000">α</text>
<text transform="translate(1331.80,578.90) scale(1.0574,1.0000)" font-size="34.39" style="" fill="#000">1</text>
<text transform="translate(1359.26,577.56) scale(1.3787,1.0000)" font-size="54.40" style="" fill="#000">=</text>
<text transform="translate(1411.58,571.90) scale(1.1659,1.0000)" font-size="48.02" style="" fill="#000">1.1</text>
<text transform="translate(1297.81,632.04) scale(1.2572,1.0000)" font-size="45.23" style="font-style:italic;" fill="#000">α</text>
<text transform="translate(1331.80,638.90) scale(1.0574,1.0000)" font-size="34.39" style="" fill="#000">1</text>
<text transform="translate(1359.26,637.56) scale(1.3787,1.0000)" font-size="54.40" style="" fill="#000">=</text>
<text transform="translate(1411.51,631.90) scale(1.1812,1.0000)" font-size="48.02" style="" fill="#000">1.3</text>
<text transform="translate(1297.81,693.04) scale(1.2572,1.0000)" font-size="45.23" style="font-style:italic;" fill="#000">α</text>
<text transform="translate(1331.80,699.90) scale(1.0574,1.0000)" font-size="34.39" style="" fill="#000">1</text>
<text transform="translate(1359.26,698.56) scale(1.3787,1.0000)" font-size="54.40" style="" fill="#000">=</text>
<text transform="translate(1411.55,692.90) scale(1.1719,1.0000)" font-size="48.02" style="" fill="#000">1.5</text>
<text transform="translate(1297.81,753.04) scale(1.2572,1.0000)" font-size="45.23" style="font-style:italic;" fill="#000">α</text>
<text transform="translate(1331.80,759.90) scale(1.0574,1.0000)" font-size="34.39" style="" fill="#000">1</text>
<text transform="translate(1359.26,758.56) scale(1.3787,1.0000)" font-size="54.40" style="" fill="#000">=</text>
<text transform="translate(1411.49,752.90) scale(1.1871,1.0000)" font-size="48.02" style="" fill="#000">1.7</text>
</g>
</svg>
</body></html>
